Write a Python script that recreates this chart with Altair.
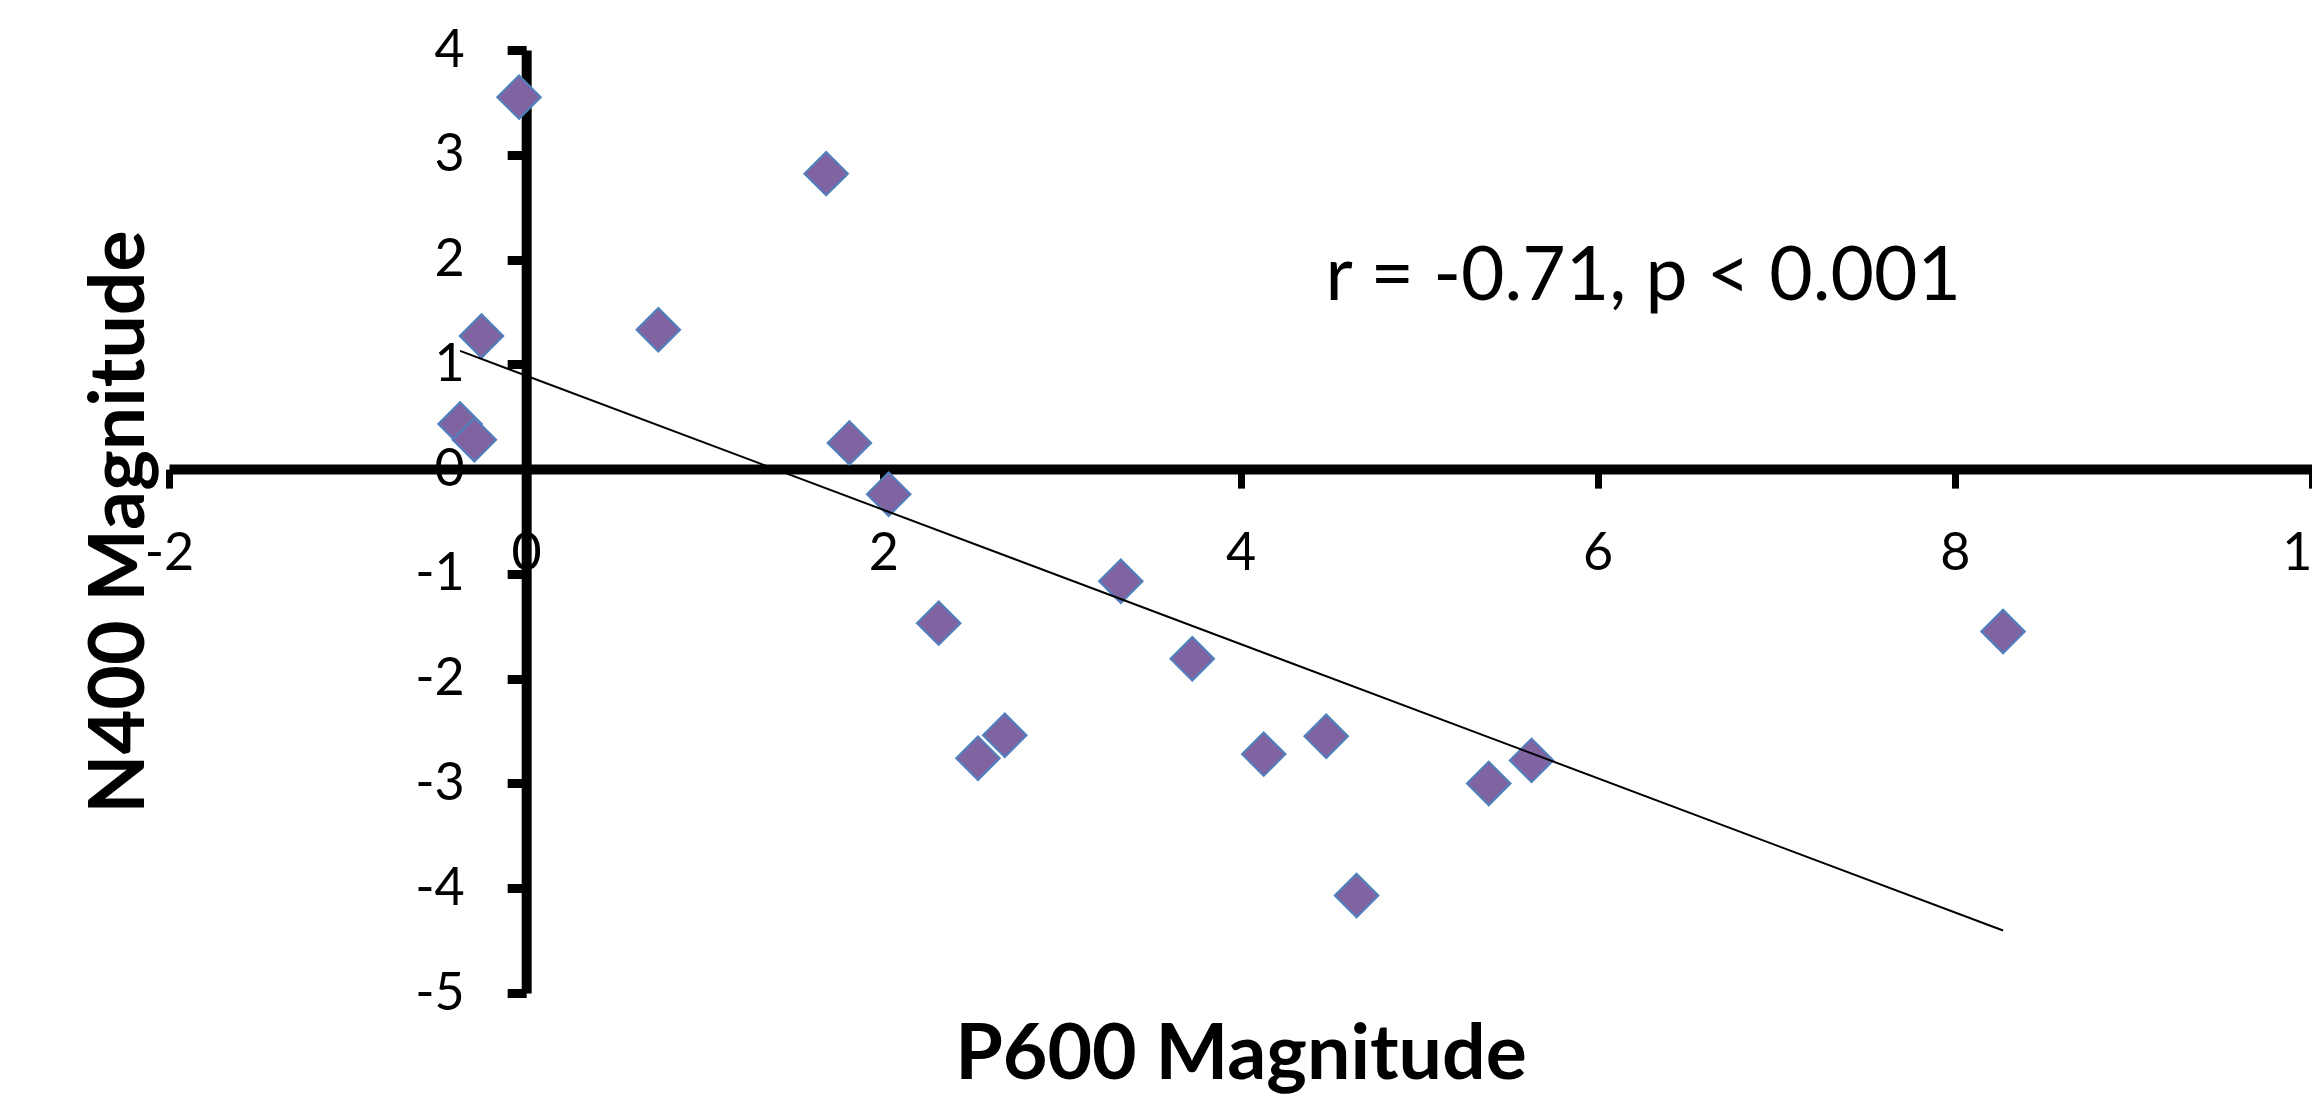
import altair as alt
import pandas as pd

# Data
p600 = [-0.04, -0.25, 0.74, -0.37, -0.29, 1.68, 1.81, 2.03, 2.31, 3.33,
        3.73, 2.68, 2.53, 4.13, 4.48, 4.65, 5.39, 5.63, 8.27]
n400 = [3.55, 1.27, 1.33, 0.43, 0.28, 2.82, 0.25, -0.24, -1.47, -1.07,
        -1.81, -2.54, -2.76, -2.72, -2.55, -4.07, -3.00, -2.78, -1.55]

x_ticks = [-2, 0, 2, 4, 6, 8, 10]
y_ticks = [-5, -4, -3, -2, -1, 0, 1, 2, 3, 4]
x_domain = [-2, 10]
y_domain = [-5, 4]

ann_x = [4.476]
ann_y = [1.614]
ann_text = ["r = -0.71, p < 0.001"]

df = pd.DataFrame({"x": p600, "y": n400})
ann = pd.DataFrame({"x": ann_x, "y": ann_y, "label": ann_text})

W = 2143
H = 943
# offsets that move each axis onto the zero line of the other scale
y_axis_off = -(0 - x_domain[0]) / (x_domain[1] - x_domain[0]) * W
x_axis_off = -(0 - y_domain[0]) / (y_domain[1] - y_domain[0]) * H

FONT = "Lato"

x_axis = alt.Axis(
    values=x_ticks, title="P600 Magnitude", offset=x_axis_off, grid=False,
    domainColor="black", domainWidth=10, tickColor="black", tickWidth=7,
    tickSize=19, labelFont=FONT, labelFontSize=52, labelColor="black",
    labelPadding=40, labelFlush=False, labelOverlap=False, labelAngle=0,
    labelExpr="'' + datum.value",
    titleFont=FONT, titleFontSize=77, titleFontWeight="bold",
    titleColor="black", titleBaseline="alphabetic", titleY=609,
)
y_axis = alt.Axis(
    values=y_ticks, title="N400 Magnitude", offset=y_axis_off, grid=False,
    domainColor="black", domainWidth=10, tickColor="black", tickWidth=9,
    tickSize=19, labelFont=FONT, labelFontSize=52, labelColor="black",
    labelPadding=43, labelFlush=False, labelOverlap=False,
    labelExpr="'' + datum.value",
    titleFont=FONT, titleFontSize=77, titleFontWeight="bold",
    titleColor="black", titleBaseline="alphabetic", titleX=-383,
)

x_enc = alt.X("x:Q", scale=alt.Scale(domain=x_domain, nice=False, zero=False), axis=x_axis)
y_enc = alt.Y("y:Q", scale=alt.Scale(domain=y_domain, nice=False, zero=False), axis=y_axis)

points = alt.Chart(df).mark_point(
    shape="diamond", size=1900, filled=True, fill="#8064A2",
    stroke="#4F81BD", strokeWidth=2, opacity=1, fillOpacity=1,
).encode(x=x_enc, y=y_enc)

trend = alt.Chart(df).transform_regression("x", "y").mark_line(
    color="black", strokeWidth=2
).encode(x=x_enc, y=y_enc)

label = alt.Chart(ann).mark_text(
    align="left", baseline="alphabetic", font=FONT, fontSize=75, color="black"
).encode(x=x_enc, y=y_enc, text="label:N")

chart = alt.layer(points, trend, label).properties(
    width=W, height=H,
    autosize=alt.AutoSizeParams(type="none"),
    padding={"left": 169, "top": 50, "right": 0, "bottom": 104},
    background="white",
).configure_view(strokeWidth=0)

chart.save("out.html", embed_options={"renderer": "svg", "actions": False})
